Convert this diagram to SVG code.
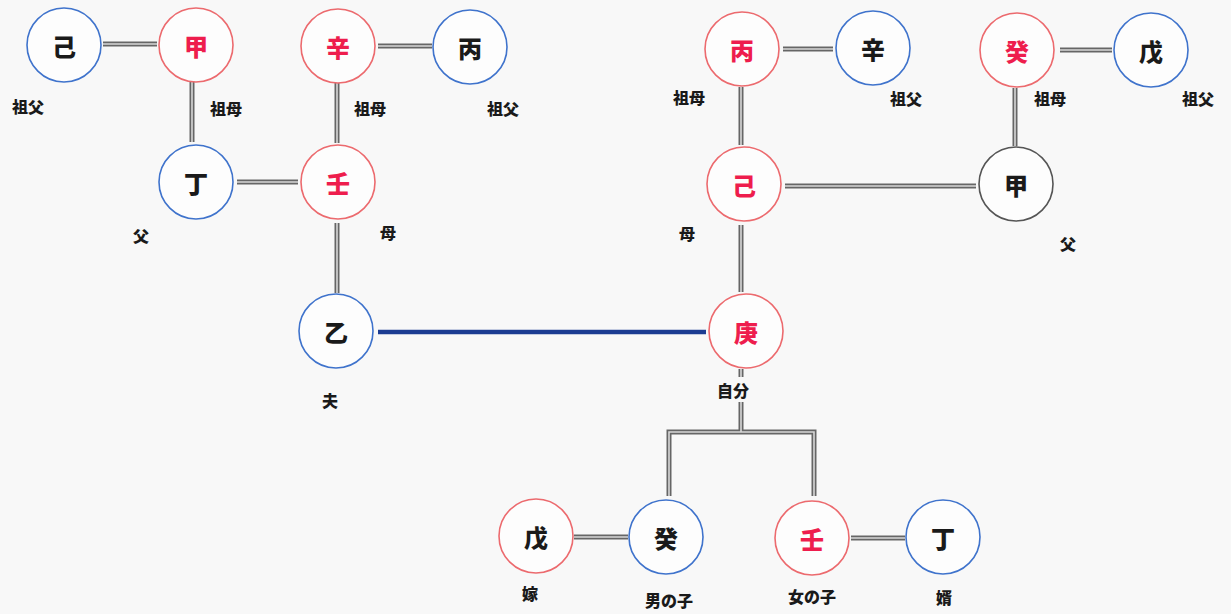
<svg xmlns="http://www.w3.org/2000/svg" width="1231" height="614" viewBox="0 0 1231 614">
<style>
.n{fill:#fdfdfd;stroke-width:1.6}
.r{stroke:#ec6a6e}
.b{stroke:#3f73cc}
.k{stroke:#555}
.t{font-family:"Noto Sans CJK JP","Noto Sans CJK SC",sans-serif;font-weight:900;font-size:24px;text-anchor:middle;dominant-baseline:central}
.tr{fill:#ee1d4d}
.tk{fill:#1a1a1a}
.l{font-family:"Noto Sans CJK JP","Noto Sans CJK SC",sans-serif;font-weight:900;font-size:16px;fill:#1a1a1a;text-anchor:middle;dominant-baseline:central}
.c1{stroke:#666;stroke-width:5;fill:none}
.c2{stroke:#d8d8d8;stroke-width:1.6;fill:none}
</style>
<rect width="1231" height="614" fill="#f8f8f8"/>
<g id="connectors">
<g id="dbl">
<path class="c1" d="M103 44H157M192 81V142M378 46H432M337 83V143M237 182H298M337 223V293M783 49H833M741 87V145M1060 50H1112M1015 88V146M785 186H976M741 225V292M741 369V377M741 402V432M669 496V432H814V496M574 537H628M851 538H905"/>
<path class="c2" d="M103 44H157M192 81V142M378 46H432M337 83V143M237 182H298M337 223V293M783 49H833M741 87V145M1060 50H1112M1015 88V146M785 186H976M741 225V292M741 369V377M741 402V432M669 496V432H814V496M574 537H628M851 538H905"/>
</g>
<line x1="378" y1="332" x2="706" y2="332" stroke="#1c3c92" stroke-width="4.5"/>
</g>
<g id="n1"><circle class="n b" cx="64" cy="45" r="37"/><text class="t tk" x="64" y="45">己</text></g>
<g id="n2"><circle class="n r" cx="196" cy="45" r="37"/><text class="t tr" x="196" y="45">甲</text></g>
<g id="n3"><circle class="n r" cx="338" cy="46" r="37"/><text class="t tr" x="338" y="46">辛</text></g>
<g id="n4"><circle class="n b" cx="470" cy="47" r="37"/><text class="t tk" x="470" y="47">丙</text></g>
<g id="n5"><circle class="n b" cx="196" cy="182" r="37"/><text class="t tk" x="196" y="182">丁</text></g>
<g id="n6"><circle class="n r" cx="338" cy="182" r="37"/><text class="t tr" x="338" y="182">壬</text></g>
<g id="n7"><circle class="n b" cx="336" cy="331" r="37"/><text class="t tk" x="336" y="331">乙</text></g>
<g id="n8"><circle class="n r" cx="746" cy="331" r="37"/><text class="t tr" x="746" y="331">庚</text></g>
<g id="n9"><circle class="n r" cx="742" cy="49" r="37"/><text class="t tr" x="742" y="49">丙</text></g>
<g id="n10"><circle class="n b" cx="873" cy="48" r="37"/><text class="t tk" x="873" y="48">辛</text></g>
<g id="n11"><circle class="n r" cx="1017" cy="50" r="37"/><text class="t tr" x="1017" y="50">癸</text></g>
<g id="n12"><circle class="n b" cx="1151" cy="50" r="37"/><text class="t tk" x="1151" y="50">戊</text></g>
<g id="n13"><circle class="n r" cx="744" cy="184" r="37"/><text class="t tr" x="744" y="184">己</text></g>
<g id="n14"><circle class="n k" cx="1016" cy="184" r="37"/><text class="t tk" x="1016" y="184">甲</text></g>
<g id="n15"><circle class="n r" cx="536" cy="536" r="37"/><text class="t tk" x="536" y="536">戊</text></g>
<g id="n16"><circle class="n b" cx="666" cy="537" r="37"/><text class="t tk" x="666" y="537">癸</text></g>
<g id="n17"><circle class="n r" cx="812" cy="538" r="37"/><text class="t tr" x="812" y="538">壬</text></g>
<g id="n18"><circle class="n b" cx="943" cy="537" r="37"/><text class="t tk" x="943" y="537">丁</text></g>
<g id="labels">
<text class="l" x="28" y="106">祖父</text>
<text class="l" x="226" y="108">祖母</text>
<text class="l" x="370" y="108">祖母</text>
<text class="l" x="503" y="108">祖父</text>
<text class="l" x="141" y="235">父</text>
<text class="l" x="388" y="232">母</text>
<text class="l" x="330" y="400">夫</text>
<text class="l" x="733" y="390">自分</text>
<text class="l" x="689" y="97">祖母</text>
<text class="l" x="906" y="98">祖父</text>
<text class="l" x="1050" y="98">祖母</text>
<text class="l" x="1198" y="98">祖父</text>
<text class="l" x="687" y="233">母</text>
<text class="l" x="1068" y="243">父</text>
<text class="l" x="530" y="593">嫁</text>
<text class="l" x="669" y="600">男の子</text>
<text class="l" x="812" y="596">女の子</text>
<text class="l" x="944" y="597">婿</text>
</g>
</svg>
